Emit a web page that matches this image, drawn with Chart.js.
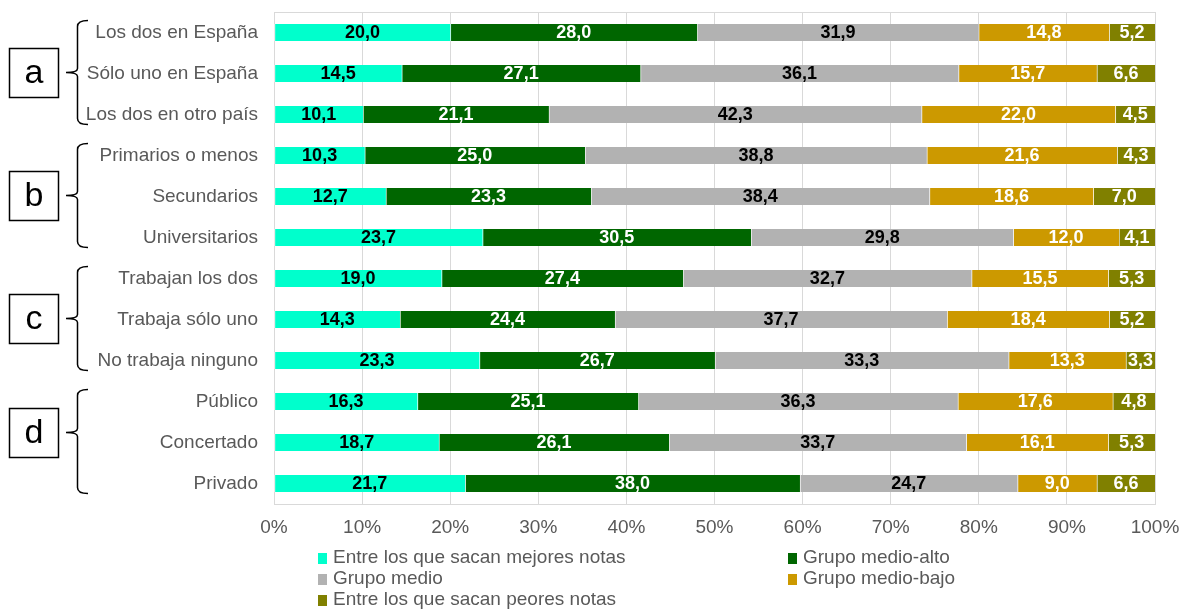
<!DOCTYPE html>
<html>
<head>
<meta charset="utf-8">
<script src="https://cdn.jsdelivr.net/npm/chart.js@4"></script>
<style>
html,body{margin:0;padding:0;background:#fff;}
#wrap{width:1181px;height:609px;position:relative;}
</style>
</head>
<body>
<div id="wrap"><canvas id="c"></canvas></div>
<script>
const categories = ['Los dos en España','Sólo uno en España','Los dos en otro país','Primarios o menos','Secundarios','Universitarios','Trabajan los dos','Trabaja sólo uno','No trabaja ninguno','Público','Concertado','Privado'];
const seriesNames = ['Entre los que sacan mejores notas','Grupo medio-alto','Grupo medio','Grupo medio-bajo','Entre los que sacan peores notas'];
const mejores   = [20.0,14.5,10.1,10.3,12.7,23.7,19.0,14.3,23.3,16.3,18.7,21.7];
const medioAlto = [28.0,27.1,21.1,25.0,23.3,30.5,27.4,24.4,26.7,25.1,26.1,38.0];
const medio     = [31.9,36.1,42.3,38.8,38.4,29.8,32.7,37.7,33.3,36.3,33.7,24.7];
const medioBajo = [14.8,15.7,22.0,21.6,18.6,12.0,15.5,18.4,13.3,17.6,16.1,9.0];
const peores    = [5.2,6.6,4.5,4.3,7.0,4.1,5.3,5.2,3.3,4.8,5.3,6.6];
const xTicks = [0,10,20,30,40,50,60,70,80,90,100];
const groupLetters = ['a','b','c','d'];
const groupSize = 3;

const colors = ['#00FFCC','#006600','#B2B2B2','#CC9900','#808000'];
const labelColors = ['#000000','#ffffff','#000000','#ffffff','#ffffff'];
const raw = [mejores, medioAlto, medio, medioBajo, peores];
const totals = categories.map((_, i) => raw.reduce((s, a) => s + a[i], 0));

const datasets = raw.map((arr, k) => ({
  label: seriesNames[k],
  data: arr.map((v, i) => v / totals[i] * 100),
  rawData: arr,
  backgroundColor: colors[k],
  borderColor: 'rgba(255,255,255,0.6)',
  borderWidth: {left: 1, right: 0, top: 0, bottom: 0},
  borderSkipped: false,
  barThickness: 17,
  labelColor: labelColors[k]
}));

const FONT = '"Liberation Sans", Arial, sans-serif';

const valueLabels = {
  id: 'valueLabels',
  afterDatasetsDraw(chart) {
    const ctx = chart.ctx;
    ctx.save();
    ctx.font = 'bold 18px ' + FONT;
    ctx.textAlign = 'center';
    ctx.textBaseline = 'middle';
    chart.data.datasets.forEach((ds, k) => {
      const meta = chart.getDatasetMeta(k);
      meta.data.forEach((bar, i) => {
        const x = (bar.x + bar.base) / 2;
        ctx.fillStyle = ds.labelColor;
        ctx.fillText(ds.rawData[i].toFixed(1).replace('.', ','), x, bar.y + 1);
      });
    });
    ctx.restore();
  }
};

const frame = {
  id: 'frame',
  beforeDatasetsDraw(chart) {
    const a = chart.chartArea, ctx = chart.ctx;
    ctx.save();
    ctx.strokeStyle = '#d9d9d9';
    ctx.lineWidth = 1;
    ctx.strokeRect(Math.round(a.left) + 0.5, Math.round(a.top) + 0.5, Math.round(a.right - a.left), Math.round(a.bottom - a.top));
    ctx.restore();
  }
};

const brackets = {
  id: 'brackets',
  afterDraw(chart) {
    const ctx = chart.ctx, y = chart.scales.y;
    const nubShift = [0, 0, 0, -9];
    ctx.save();
    groupLetters.forEach((letter, g) => {
      const top = y.getPixelForValue(g * groupSize) - 12;
      const bot = y.getPixelForValue(g * groupSize + groupSize - 1) + 10;
      const mid = (top + bot) / 2 + nubShift[g];
      const vx = 77.5;
      ctx.strokeStyle = '#000';
      ctx.lineWidth = 1.5;
      ctx.beginPath();
      ctx.moveTo(88, top);
      ctx.quadraticCurveTo(vx, top, vx, top + 6);
      ctx.lineTo(vx, mid - 4);
      ctx.quadraticCurveTo(vx, mid, 66, mid);
      ctx.moveTo(66, mid);
      ctx.quadraticCurveTo(vx, mid, vx, mid + 4);
      ctx.lineTo(vx, bot - 6);
      ctx.quadraticCurveTo(vx, bot, 88, bot);
      ctx.stroke();
      ctx.lineWidth = 1.5;
      ctx.strokeRect(9.5, mid - 24, 49, 49);
      ctx.fillStyle = '#000';
      ctx.font = '34px ' + FONT;
      ctx.textAlign = 'center';
      ctx.textBaseline = 'middle';
      ctx.fillText(letter, 34, mid + 1);
    });
    ctx.restore();
  }
};

const customLegend = {
  id: 'customLegend',
  afterDraw(chart) {
    const ctx = chart.ctx;
    const pos = [[318, 558], [788, 558], [318, 579], [788, 579], [318, 600]];
    ctx.save();
    ctx.font = '19px ' + FONT;
    ctx.textBaseline = 'middle';
    ctx.textAlign = 'left';
    chart.data.datasets.forEach((ds, k) => {
      const [px, py] = pos[k];
      ctx.fillStyle = ds.backgroundColor;
      ctx.fillRect(px, py - 5, 9, 11);
      ctx.fillStyle = '#595959';
      ctx.fillText(ds.label, px + 15, py);
    });
    ctx.restore();
  }
};

new Chart(document.getElementById('c'), {
  type: 'bar',
  data: { labels: categories, datasets },
  plugins: [frame, valueLabels, brackets, customLegend],
  options: {
    indexAxis: 'y',
    responsive: true,
    maintainAspectRatio: false,
    animation: false,
    layout: { padding: { left: 0, right: 26, top: 12, bottom: 65 } },
    plugins: { legend: { display: false }, tooltip: { enabled: false } },
    scales: {
      x: {
        stacked: true,
        min: 0, max: 100,
        afterBuildTicks(scale) { scale.ticks = xTicks.map(v => ({ value: v })); },
        afterFit(scale) { scale.height = 40; scale.paddingLeft = 0; scale.paddingRight = 0; },
        ticks: {
          color: '#595959',
          font: { size: 19, family: FONT },
          padding: 12,
          maxRotation: 0,
          callback: v => v + '%'
        },
        grid: { color: '#d9d9d9', drawTicks: false },
        border: { display: false }
      },
      y: {
        stacked: true,
        afterFit(scale) { scale.width = 274; scale.paddingTop = 0; scale.paddingBottom = 0; },
        ticks: {
          color: '#595959',
          font: { size: 19, family: FONT },
          padding: 16
        },
        grid: { display: false, drawTicks: false },
        border: { display: false }
      }
    }
  }
});
</script>
</body>
</html>
